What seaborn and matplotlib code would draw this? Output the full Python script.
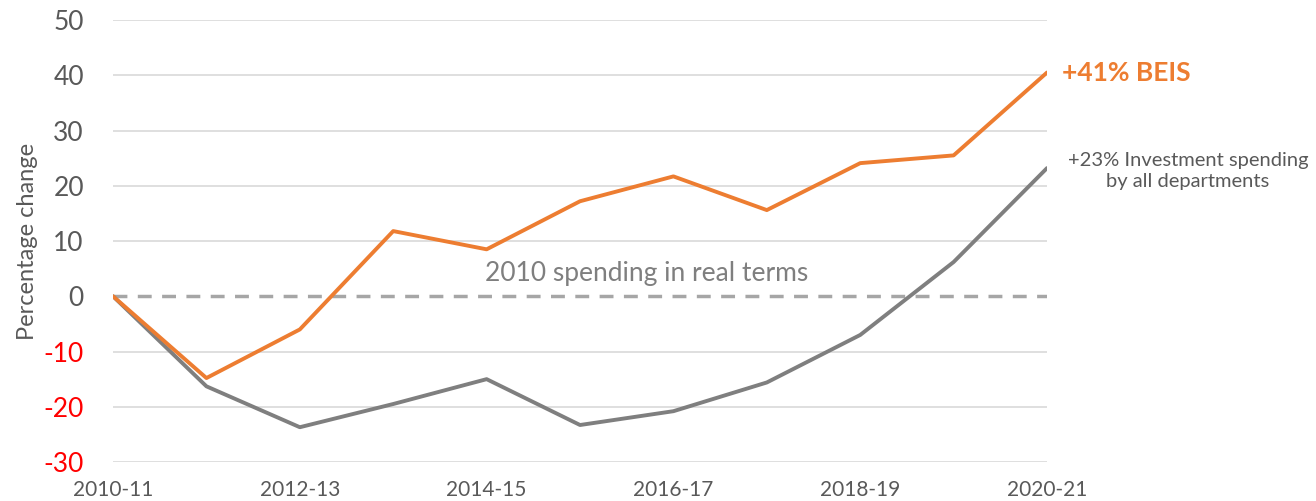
import matplotlib
matplotlib.use("Agg")
import matplotlib.pyplot as plt
import seaborn as sns
import pandas as pd

years = ["2010-11", "2011-12", "2012-13", "2013-14", "2014-15", "2015-16",
         "2016-17", "2017-18", "2018-19", "2019-20", "2020-21"]
beis = [0, -14.8, -6.0, 11.8, 8.5, 17.2, 21.7, 15.6, 24.1, 25.5, 40.5]
all_depts = [0, -16.3, -23.7, -19.5, -15.0, -23.3, -20.8, -15.6, -7.0, 6.2, 23.2]
y_ticks = [-30, -20, -10, 0, 10, 20, 30, 40, 50]

ORANGE = "#ED7D31"
GREY = "#7F7F7F"
TEXT = "#595959"

sns.set_theme(style="white")
plt.rcParams['font.family'] = ['Lato', 'DejaVu Sans']

df = pd.DataFrame({"year": years, "idx": range(len(years)),
                   "BEIS": beis, "All": all_depts})

fig = plt.figure(figsize=(13.16, 5.01), dpi=100)
ax = fig.add_axes([0.0859, 0.0778, 0.7097, 0.8822])

for y in y_ticks:
    if y != 0:
        ax.axhline(y, color="#D9D9D9", lw=1.2, zorder=0)
ax.axhline(0, color="#A6A6A6", lw=2.5, ls=(0, (4, 3)), zorder=1)

sns.lineplot(data=df, x="idx", y="All", color=GREY, lw=2.8, ax=ax, zorder=3)
sns.lineplot(data=df, x="idx", y="BEIS", color=ORANGE, lw=2.8, ax=ax, zorder=4)

ax.set_xlim(0, len(years) - 1)
ax.set_ylim(-30, 50)
ax.set_xticks(range(0, len(years), 2))
ax.set_xticklabels(years[::2], fontsize=15, color=TEXT)
ax.set_yticks(y_ticks)
ax.set_yticklabels([str(v) for v in y_ticks], fontsize=19)
for lab, v in zip(ax.get_yticklabels(), y_ticks):
    lab.set_color("#FF0000" if v < 0 else TEXT)
ax.tick_params(axis="y", pad=21, length=0)
ax.tick_params(axis="x", pad=13, length=0)
ax.set_xlabel("")
ax.set_ylabel("Percentage change", fontsize=17, color=TEXT, labelpad=4)
for s in ax.spines.values():
    s.set_visible(False)

ax.text(3.98, 1.8, "2010 spending in real terms", fontsize=19, color=GREY,
        ha="left", va="bottom")
ax.text(1.016, 40.5, "+41% BEIS", transform=ax.get_yaxis_transform(),
        fontsize=19, fontweight="bold", color=ORANGE, ha="left", va="center")
ax.text(1.151, 22.7, "+23% Investment spending\nby all departments",
        transform=ax.get_yaxis_transform(), fontsize=14.5, color=TEXT,
        ha="center", va="center", linespacing=1.25)

fig.savefig("out.png", dpi=100)
